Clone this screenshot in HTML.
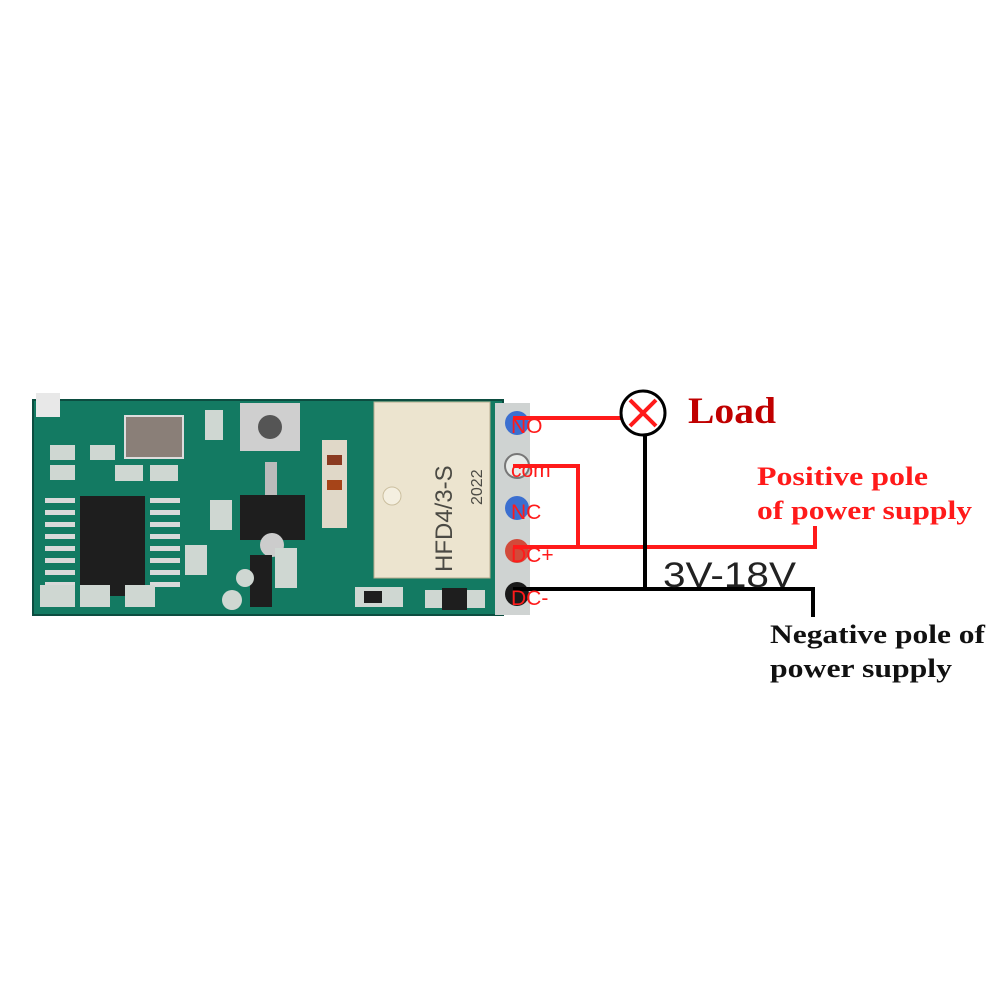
<!DOCTYPE html>
<html><head><style>
body{margin:0;background:#fff;}
svg{display:block}
</style></head><body>
<svg width="1002" height="1002" viewBox="0 0 1002 1002" xmlns="http://www.w3.org/2000/svg">
<rect width="1002" height="1002" fill="#fff"/>
<!-- board -->
<rect x="33" y="400" width="470" height="215" fill="#137a62"/>
<rect x="33" y="400" width="470" height="215" fill="none" stroke="#0c4d40" stroke-width="2"/>
<rect x="36" y="393" width="24" height="24" fill="#e8e8e8"/>
<!-- terminal strip -->
<rect x="495" y="403" width="35" height="212" fill="#cfd3d2"/>
<circle cx="517" cy="423" r="12" fill="#3b6fd0"/>
<circle cx="517" cy="466" r="12" fill="#e9ecea" stroke="#777" stroke-width="2"/>
<circle cx="517" cy="508" r="12" fill="#3b6fd0"/>
<circle cx="517" cy="551" r="12" fill="#d24a3a"/>
<circle cx="517" cy="594" r="12" fill="#1a1a1a"/>
<!-- relay -->
<rect x="374" y="402" width="116" height="176" fill="#ece4cf" stroke="#b8ad90"/>
<circle cx="392" cy="496" r="9" fill="#f4efe0" stroke="#cbbf9f"/>
<text transform="translate(452,572) rotate(-90)" font-family="Liberation Sans, sans-serif" font-size="24" fill="#4b4a44">HFD4/3-S</text>
<text transform="translate(482,505) rotate(-90)" font-family="Liberation Sans, sans-serif" font-size="16" fill="#4b4a44">2022</text>
<!-- chip -->
<rect x="80" y="496" width="65" height="100" fill="#1e1e1e"/>
<g fill="#d9d9d9">
<rect x="45" y="498" width="30" height="5"/><rect x="45" y="510" width="30" height="5"/><rect x="45" y="522" width="30" height="5"/><rect x="45" y="534" width="30" height="5"/><rect x="45" y="546" width="30" height="5"/><rect x="45" y="558" width="30" height="5"/><rect x="45" y="570" width="30" height="5"/><rect x="45" y="582" width="30" height="5"/>
<rect x="150" y="498" width="30" height="5"/><rect x="150" y="510" width="30" height="5"/><rect x="150" y="522" width="30" height="5"/><rect x="150" y="534" width="30" height="5"/><rect x="150" y="546" width="30" height="5"/><rect x="150" y="558" width="30" height="5"/><rect x="150" y="570" width="30" height="5"/><rect x="150" y="582" width="30" height="5"/>
</g>
<rect x="125" y="416" width="58" height="42" fill="#8a7f78" stroke="#ddd" stroke-width="2"/>
<rect x="240" y="403" width="60" height="48" fill="#cfcfcf"/>
<circle cx="270" cy="427" r="12" fill="#555"/>
<rect x="240" y="495" width="65" height="45" fill="#1e1e1e"/>
<rect x="265" y="462" width="12" height="33" fill="#bbb"/>
<rect x="322" y="440" width="25" height="88" fill="#e0d8c8"/>
<rect x="327" y="455" width="15" height="10" fill="#8a3a20"/><rect x="327" y="480" width="15" height="10" fill="#a64418"/>
<circle cx="272" cy="545" r="12" fill="#ccc"/>
<rect x="250" y="555" width="22" height="52" fill="#1e1e1e"/>
<rect x="355" y="587" width="48" height="20" fill="#cfd7d2"/><rect x="364" y="591" width="18" height="12" fill="#1e1e1e"/>
<rect x="425" y="590" width="60" height="18" fill="#cfd7d2"/><rect x="442" y="588" width="25" height="22" fill="#1e1e1e"/>
<g fill="#cfd7d2">
<rect x="40" y="585" width="35" height="22"/><rect x="80" y="585" width="30" height="22"/><rect x="125" y="585" width="30" height="22"/>
<rect x="50" y="445" width="25" height="15"/><rect x="50" y="465" width="25" height="15"/><rect x="90" y="445" width="25" height="15"/>
<rect x="115" y="465" width="28" height="16"/><rect x="150" y="465" width="28" height="16"/>
<rect x="205" y="410" width="18" height="30" /><rect x="275" y="548" width="22" height="40"/>
<rect x="185" y="545" width="22" height="30" /><rect x="210" y="500" width="22" height="30"/>
<circle cx="232" cy="600" r="10"/><circle cx="245" cy="578" r="9"/>
</g>
<!-- wires -->
<g fill="none" stroke-width="4" stroke-linecap="square">
<path d="M515 418 H622" stroke="#ff1a1a"/>
<path d="M515 466 H578 V547" stroke="#ff1a1a"/>
<path d="M515 547 H815 V528" stroke="#ff1a1a"/>
<path d="M645 436 V589" stroke="#000"/>
<path d="M515 589 H813 V615" stroke="#000"/>
</g>
<circle cx="643" cy="413" r="22" fill="#fff" stroke="#000" stroke-width="3"/>
<path d="M630 400 L656 426 M656 400 L630 426" stroke="#ff1a1a" stroke-width="4"/>
<g font-family="Liberation Sans, sans-serif" font-size="21" fill="#ff1a1a">
<text x="511" y="433">NO</text>
<text x="511" y="477">com</text>
<text x="511" y="519">NC</text>
<text x="511" y="562">DC+</text>
<text x="511" y="605">DC-</text>
</g>
<text x="688" y="423" font-family="Liberation Serif, serif" font-weight="bold" font-size="37" fill="#c00000" textLength="88" lengthAdjust="spacingAndGlyphs">Load</text>
<g font-family="Liberation Serif, serif" font-weight="bold" font-size="26" fill="#ff1a1a">
<text x="757" y="485" textLength="171" lengthAdjust="spacingAndGlyphs">Positive pole</text>
<text x="757" y="519" textLength="215" lengthAdjust="spacingAndGlyphs">of power supply</text>
</g>
<text x="663" y="587" font-family="Liberation Sans, sans-serif" font-size="35" fill="#222" textLength="133" lengthAdjust="spacingAndGlyphs">3V-18V</text>
<g font-family="Liberation Serif, serif" font-weight="bold" font-size="26" fill="#111">
<text x="770" y="643" textLength="215" lengthAdjust="spacingAndGlyphs">Negative pole of</text>
<text x="770" y="677" textLength="182" lengthAdjust="spacingAndGlyphs">power supply</text>
</g>
</svg>
</body></html>
